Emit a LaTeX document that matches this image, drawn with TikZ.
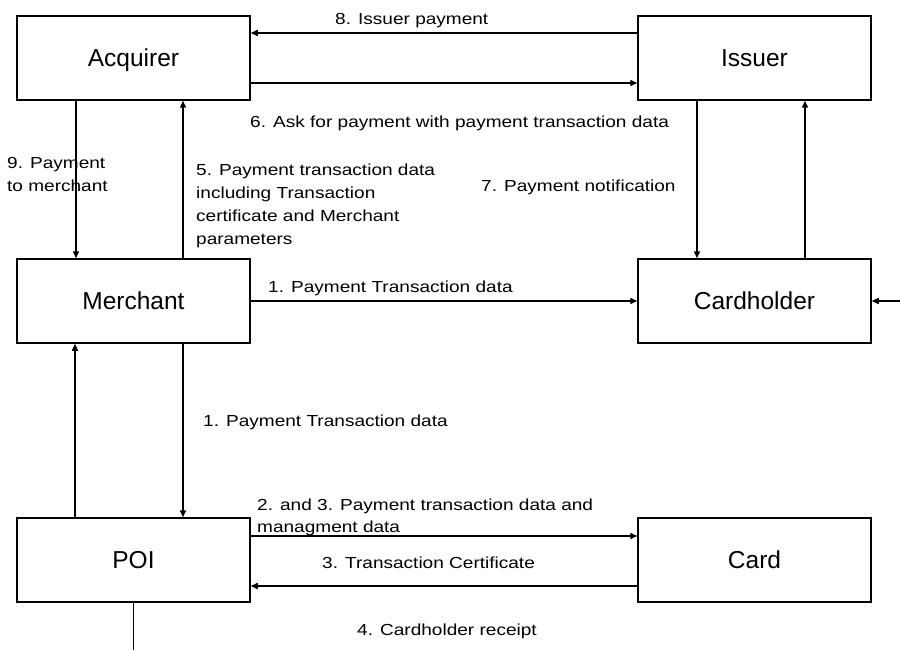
\documentclass[tikz,border=0pt]{standalone}
\usepackage{fontspec}
\setmainfont{Liberation Sans}
\newfontfamily\lblfont{Liberation Sans}[FakeStretch=1.19]
\usetikzlibrary{arrows.meta}
\begin{document}
\begin{tikzpicture}[x=1pt,y=-1pt,
  box/.style={draw,line width=1.5pt,minimum width=233pt,minimum height=84pt,inner sep=0pt,
    font=\fontsize{24.5}{26}\selectfont,text height=17.6pt,text depth=0pt},
  conn/.style={line width=1.5pt},
  arr/.style={conn,-{Triangle[length=7pt,width=6pt]}},
  lbl/.style={anchor=base west,inner sep=0pt,font=\lblfont\fontsize{16}{23}\selectfont,align=left}]
\useasboundingbox (0,0) rectangle (900,650);
% boxes
\node[box] (acq) at (133.5,58) {Acquirer};
\node[box] (iss) at (754.5,58) {Issuer};
\node[box] (mer) at (133.5,301) {Merchant};
\node[box] (chd) at (754.5,301) {Cardholder};
\node[box] (poi) at (133.5,560) {POI};
\node[box] (crd) at (754.5,560) {Card};
\coordinate (bottomend) at (133.5,652);
\coordinate (rightend) at (902,301);
% connectors
\draw[arr] ([yshift=25pt]iss.west) -- ([yshift=25pt]acq.east);
\draw[arr] ([yshift=-25pt]acq.east) -- ([yshift=-25pt]iss.west);
\draw[arr] ([xshift=-57.5pt]acq.south) -- ([xshift=-57.5pt]mer.north);
\draw[arr] ([xshift=49.5pt]mer.north) -- ([xshift=49.5pt]acq.south);
\draw[arr] ([xshift=-57.5pt]iss.south) -- ([xshift=-57.5pt]chd.north);
\draw[arr] ([xshift=50.5pt]chd.north) -- ([xshift=50.5pt]iss.south);
\draw[arr] (mer.east) -- (chd.west);
\draw[arr] (rightend) -- (chd.east);
\draw[arr] ([xshift=49.5pt]mer.south) -- ([xshift=49.5pt]poi.north);
\draw[arr] ([xshift=-58.5pt]poi.north) -- ([xshift=-58.5pt]mer.south);
\draw[arr] ([yshift=24pt]poi.east) -- ([yshift=24pt]crd.west);
\draw[arr] ([yshift=-26pt]crd.west) -- ([yshift=-26pt]poi.east);
\draw[conn] (poi.south) -- (bottomend);
% labels (base = baseline of last line)
\node[lbl] (l8) at (335,25) {8. Issuer payment};
\node[lbl] (l6) at (250,128) {6. Ask for payment with payment transaction data};
\node[lbl] (l9) at (7,191) {9. Payment\\to merchant};
\node[lbl] (l5) at (196,244) {5. Payment transaction data\\including Transaction\\certificate and Merchant\\parameters};
\node[lbl] (l7) at (481,191) {7. Payment notification};
\node[lbl] (l1a) at (268,292) {1. Payment Transaction data};
\node[lbl] (l1b) at (203,426) {1. Payment Transaction data};
\node[lbl,font=\lblfont\fontsize{16}{22}\selectfont] (l23) at (257,532) {2. and 3. Payment transaction data and\\managment data};
\node[lbl] (l3) at (322,568) {3. Transaction Certificate};
\node[lbl] (l4) at (357,635) {4. Cardholder receipt};
\end{tikzpicture}
\end{document}
